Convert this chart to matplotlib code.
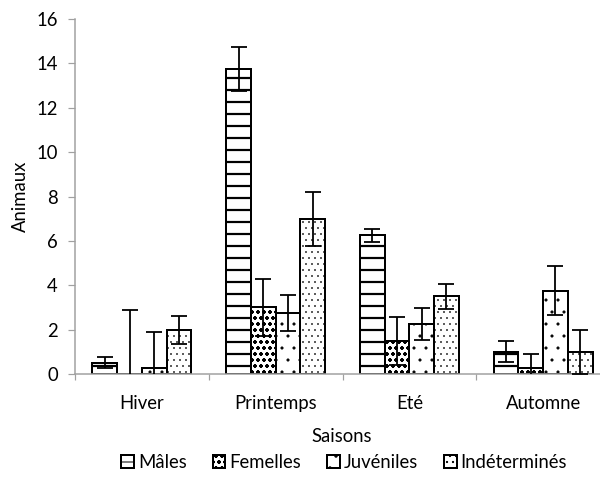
import matplotlib
matplotlib.use("Agg")
import matplotlib.pyplot as plt
import numpy as np

seasons = ["Hiver", "Printemps", "Eté", "Automne"]
series = ["Mâles", "Femelles", "Juvéniles", "Indéterminés"]
males = [0.5, 13.75, 6.25, 1.0]
males_err = [0.25, 1.0, 0.3, 0.48]
femelles = [0.0, 3.0, 1.5, 0.25]
femelles_err = [2.9, 1.3, 1.08, 0.65]
juveniles = [0.25, 2.75, 2.25, 3.75]
juveniles_err = [1.65, 0.82, 0.73, 1.1]
indet = [2.0, 7.0, 3.5, 1.0]
indet_err = [0.63, 1.22, 0.56, 1.0]
yticks = [0, 2, 4, 6, 8, 10, 12, 14, 16]

values = [males, femelles, juveniles, indet]
errors = [males_err, femelles_err, juveniles_err, indet_err]
hatches = ["-", "oo", ".", ".."]
hatch_lw = [2.2, 0.9, 0.6, 0.5]

plt.rcParams["font.family"] = ["Lato", "DejaVu Sans"]

dpi = 72
fig = plt.figure(figsize=(600 / dpi, 493 / dpi), dpi=dpi)
ax = fig.add_axes([75 / 600, 1 - 374 / 493, 535 / 600, (374 - 19) / 493])

x = np.arange(len(seasons))
w = 0.185
handles = []
fs = 18.5
for i, (vals, errs, h, hl, name) in enumerate(zip(values, errors, hatches, hatch_lw, series)):
    pos = x + (i - 1.5) * w
    with plt.rc_context({"hatch.linewidth": hl}):
        b = ax.bar(pos, vals, width=w, color="white", edgecolor="black",
                   linewidth=2, hatch=h, label=name, zorder=2)
    ax.errorbar(pos, vals, yerr=errs, fmt="none", ecolor="black",
                elinewidth=1.8, capsize=8, capthick=1.8, zorder=3)
    handles.append(b)

ax.set_xlim(-0.5, 3.5)
ax.set_ylim(0, 16)
ax.set_yticks(yticks)
ax.set_xticks(x)
ax.set_xticklabels(seasons, fontsize=fs)
ax.set_xticks(np.arange(-0.5, 3.6, 1), minor=True)
ax.tick_params(axis="x", which="major", length=0, pad=21)
ax.tick_params(axis="x", which="minor", length=6, color="#a0a0a0", width=1.2)
ax.tick_params(axis="y", length=7, color="#a0a0a0", width=1.2, labelsize=fs, pad=10)
for s in ["top", "right"]:
    ax.spines[s].set_visible(False)
for s in ["left", "bottom"]:
    ax.spines[s].set_color("#a0a0a0")
    ax.spines[s].set_linewidth(1.5)

ax.set_xlabel("Saisons", fontsize=fs, va="center")
ax.set_ylabel("Animaux", fontsize=fs, va="center")
ax.xaxis.set_label_coords(267 / 535, -(437 - 374) / 355)
ax.yaxis.set_label_coords(-(75 - 20) / 535, 0.5)

fig.legend(handles, series, loc="center", bbox_to_anchor=(344 / 600, 1 - 462 / 493),
           ncol=4, frameon=False, fontsize=fs, handlelength=0.7, handleheight=0.7,
           handletextpad=0.2, columnspacing=1.4, borderpad=0)

fig.savefig("out.png", dpi=dpi)
